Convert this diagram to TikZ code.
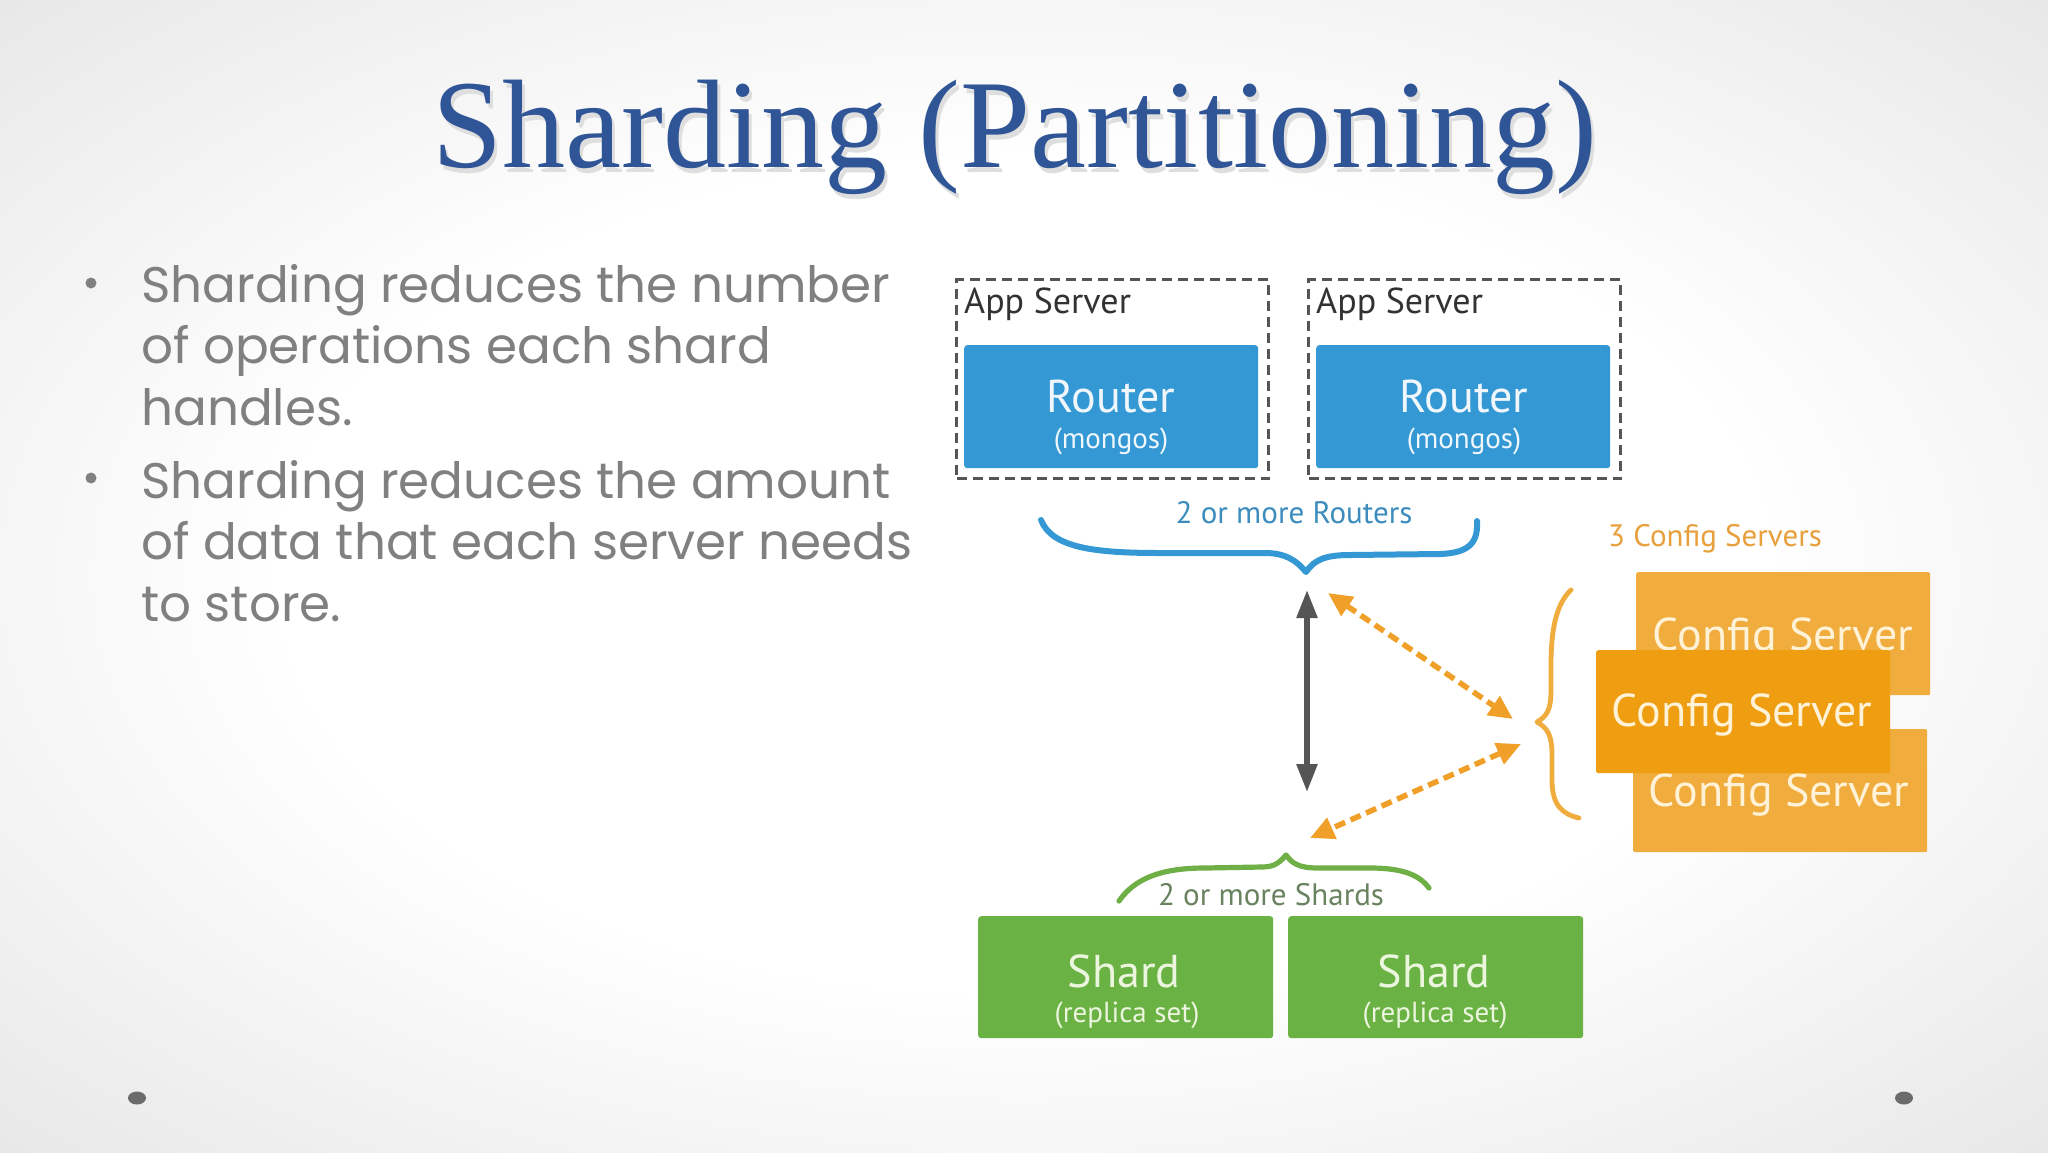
\documentclass[tikz,border=0pt]{standalone}
\usepackage{fontspec}
\setmainfont{Liberation Serif}
\newfontfamily\bodyfont{Poppins}
\newfontfamily\diafont{PT Sans}
\usetikzlibrary{arrows.meta,shapes.geometric}
\definecolor{titleblue}{RGB}{47,85,151}
\definecolor{bodygray}{RGB}{128,128,128}
\definecolor{routerblue}{RGB}{52,152,212}
\definecolor{dashgray}{RGB}{85,85,85}
\definecolor{apptext}{RGB}{50,50,50}
\definecolor{routerlabel}{RGB}{60,140,190}
\definecolor{arrowgray}{RGB}{85,85,85}
\definecolor{dashorange}{RGB}{240,160,40}
\definecolor{cfgback}{RGB}{240,172,60}
\definecolor{cfgfront}{RGB}{238,158,16}
\definecolor{cfgtext}{RGB}{255,242,215}
\definecolor{cfglabel}{RGB}{232,160,60}
\definecolor{bracegreen}{RGB}{110,175,70}
\definecolor{shardgreen}{RGB}{106,178,68}
\definecolor{shardlabel}{RGB}{105,130,95}
\definecolor{shardtext}{RGB}{236,246,222}
\definecolor{bgedge}{RGB}{212,212,212}
\pgfdeclareradialshading{slidebg}{\pgfpoint{0bp}{0bp}}{color(0bp)=(white); color(18bp)=(white); color(50bp)=(bgedge)}
\begin{document}
\begin{tikzpicture}[x=1pt,y=-1pt,
  bodyline/.style={anchor=base west, inner sep=0pt, text=bodygray, font=\bodyfont\fontsize{50}{60}\selectfont},
  bul/.style={circle, fill=bodygray, minimum size=11pt, inner sep=0pt},
  appbox/.style={draw=dashgray, line width=3.2pt, dash pattern=on 10pt off 6pt, anchor=north west, inner sep=0pt, minimum width=312pt, minimum height=199pt},
  applabel/.style={anchor=base west, inner sep=0pt, text=apptext, font=\diafont\fontsize{36}{40}\selectfont},
  routerbox/.style={fill=routerblue, rounded corners=3pt, anchor=north west, inner sep=0pt, minimum width=294pt, minimum height=123pt},
  bigw/.style={anchor=base, inner sep=0pt, font=\diafont\fontsize{46}{50}\selectfont},
  smallw/.style={anchor=base, inner sep=0pt, font=\diafont\fontsize{29}{32}\selectfont},
  cfgbox/.style={rounded corners=2pt, anchor=north west, inner sep=0pt, minimum width=294pt, minimum height=123pt},
  shardbox/.style={fill=shardgreen, rounded corners=3pt, anchor=north west, inner sep=0pt, minimum width=295pt, minimum height=122pt},
  grouplabel/.style={anchor=base, inner sep=0pt, font=\diafont\fontsize{31}{34}\selectfont},
  bracestroke/.style={line width=6pt, line cap=round, line join=round},
  orangearrow/.style={draw=dashorange, line width=5.5pt, dash pattern=on 11pt off 6pt, {Triangle[width=22pt,length=24pt]}-{Triangle[width=22pt,length=24pt]}},
  slidedot/.style={ellipse, fill=black!58, minimum width=18pt, minimum height=13pt, inner sep=0pt},
]
\useasboundingbox (0,0) rectangle (2048,1152);
\shade[shading=slidebg] (0,0) rectangle (2048,1152);

% title
\node[anchor=base, inner sep=0pt, text=black!13, font=\fontsize{126}{130}\selectfont] (titleshadow) at (1018,172) {Sharding (Partitioning)};
\node[anchor=base, inner sep=0pt, text=titleblue, font=\fontsize{126}{130}\selectfont] (title) at (1015,167) {Sharding (Partitioning)};

% bullets
\node[bul] (b1) at (91,283) {};
\node[bul] (b2) at (91,478) {};
\node[bodyline] (l1) at (141,302) {Sharding reduces the number};
\node[bodyline] (l2) at (141,363) {of operations each shard};
\node[bodyline] (l3) at (141,425) {handles.};
\node[bodyline] (l4) at (141,498) {Sharding reduces the amount};
\node[bodyline] (l5) at (141,559) {of data that each server needs};
\node[bodyline] (l6) at (141,621) {to store.};

% app servers
\node[appbox] (app1) at (955,278) {};
\node[appbox] (app2) at (1307,278) {};
\node[applabel] (app1t) at (964,313) {App Server};
\node[applabel] (app2t) at (1316,313) {App Server};
\node[routerbox] (r1) at (964,345) {};
\node[routerbox] (r2) at (1316,345) {};
\node[bigw, text=white!92!routerblue] (r1a) at (1111,412) {Router};
\node[smallw, text=white!92!routerblue] (r1b) at (1111,448) {(mongos)};
\node[bigw, text=white!92!routerblue] (r2a) at (1464,412) {Router};
\node[smallw, text=white!92!routerblue] (r2b) at (1464,448) {(mongos)};

% routers brace
\node[grouplabel, text=routerlabel] (rlab) at (1294,523) {2 or more Routers};
\coordinate (bbl) at (1041,520);
\coordinate (bbtip) at (1306,572);
\coordinate (bbr) at (1477,521);
\draw[bracestroke, draw=routerblue] (bbl) .. controls (1052,548) and (1095,553) .. (1160,553) -- (1265,553) .. controls (1285,553) and (1296,560) .. (bbtip) .. controls (1314,560) and (1325,555) .. (1350,555) -- (1440,554) .. controls (1472,553) and (1478,540) .. (bbr);

% config servers
\node[grouplabel, anchor=base west, text=cfglabel] (clab) at (1608,546) {3 Config Servers};
\node[cfgbox, fill=cfgback] (c1) at (1636,572) {};
\node[bigw, text=cfgtext] (c1t) at (1783,650) {Config Server};
\node[cfgbox, fill=cfgback] (c3) at (1633,729) {};
\node[bigw, text=cfgtext] (c3t) at (1779,806) {Config Server};
\node[cfgbox, fill=cfgfront] (c2) at (1596,650) {};
\node[bigw, text=cfgtext] (c2t) at (1742,726) {Config Server};
\coordinate (obt) at (1571,590);
\coordinate (obtip) at (1537,722);
\coordinate (obb) at (1579,818);
\draw[bracestroke, line width=4.8pt, draw=cfgback] (obt) .. controls (1556,604) and (1551,630) .. (1551,665) -- (1551,690) .. controls (1551,710) and (1547,716) .. (obtip) .. controls (1547,728) and (1552,734) .. (1552,755) -- (1552,780) .. controls (1552,805) and (1562,814) .. (obb);

% arrows
\coordinate (ga) at (1307,590);
\coordinate (gb) at (1307,792);
\draw[draw=arrowgray, line width=5.5pt, {Triangle[width=20pt,length=28pt]}-{Triangle[width=20pt,length=28pt]}, arrowgray] (ga) -- (gb);
\coordinate (oa1) at (1328,593);
\coordinate (oa2) at (1513,719);
\coordinate (ob1) at (1521,744);
\coordinate (ob2) at (1310,838);
\draw[orangearrow] (oa1) -- (oa2);
\draw[orangearrow] (ob1) -- (ob2);

% shards brace
\coordinate (gbl) at (1119,901);
\coordinate (gbtip) at (1286,855);
\coordinate (gbr) at (1429,888);
\draw[bracestroke, line width=5.2pt, draw=bracegreen] (gbl) .. controls (1135,878) and (1162,868) .. (1205,868) -- (1262,867) .. controls (1275,867) and (1280,862) .. (gbtip) .. controls (1292,863) and (1298,868) .. (1318,868) -- (1370,868) .. controls (1405,868) and (1420,876) .. (gbr);
\node[grouplabel, text=shardlabel] (slab) at (1271,905) {2 or more Shards};

% shards
\node[shardbox] (s1) at (978,916) {};
\node[shardbox] (s2) at (1288,916) {};
\node[bigw, text=shardtext] (s1a) at (1124,987) {Shard};
\node[smallw, text=shardtext] (s1b) at (1127,1022) {(replica set)};
\node[bigw, text=shardtext] (s2a) at (1434,987) {Shard};
\node[smallw, text=shardtext] (s2b) at (1435,1022) {(replica set)};

% slide dots
\node[slidedot] (d1) at (137,1098) {};
\node[slidedot] (d2) at (1904,1098) {};
\end{tikzpicture}
\end{document}
